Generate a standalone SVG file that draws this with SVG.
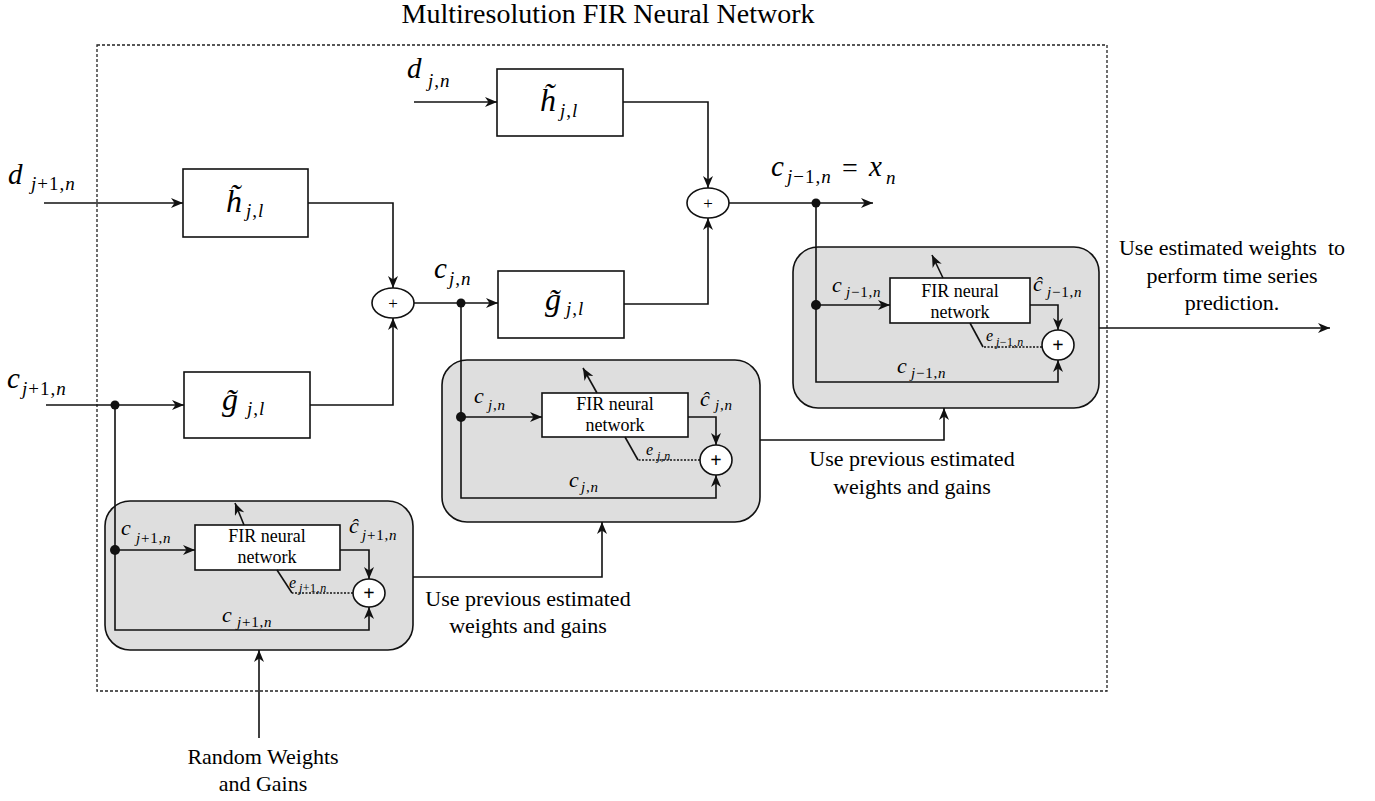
<svg xmlns="http://www.w3.org/2000/svg" width="1375" height="801" viewBox="0 0 1375 801">
<style>
.ln{fill:none;stroke:#111;stroke-width:1.6}
.dl{fill:none;stroke:#111;stroke-width:1.3;stroke-dasharray:2,1.5}
.bx{fill:#fff;stroke:#111;stroke-width:1.6}
.gb{fill:#dedede;stroke:#111;stroke-width:1.6}
.el{fill:#fff;stroke:#111;stroke-width:1.6}
.mi{font-family:"Liberation Serif",serif;font-style:italic;fill:#000}
.tx{font-family:"Liberation Serif",serif;fill:#000}
.up{font-style:normal}
.big{font-size:29px}
.bb{font-size:32px}
.sub{font-size:19px;letter-spacing:1px}
.sm{font-size:22px}
.ssub{font-size:15px;letter-spacing:0.8px}
.es{font-size:12px;letter-spacing:0.5px}
.body{font-size:22px;text-anchor:middle;white-space:pre}
.fir{font-size:18px;text-anchor:middle}
.ctr{text-anchor:middle}
</style>
<defs>
<marker id="a" viewBox="0 0 12 10" refX="12" refY="5" markerWidth="13" markerHeight="10" orient="auto" markerUnits="userSpaceOnUse"><path d="M0,0 L12,5 L0,10 L3.5,5 z" fill="#111"/></marker>
</defs>
<rect width="1375" height="801" fill="#fff"/>
<text class="tx ctr" x="608" y="23" font-size="28">Multiresolution FIR Neural Network</text>
<rect x="97" y="45" width="1010" height="646" fill="none" stroke="#222" stroke-width="1.3" stroke-dasharray="3,2"/>

<g id="h1">
<rect class="bx" x="183" y="169" width="125" height="68"/>
<text class="mi bb" x="226" y="212">h&#x303;</text>
<text class="mi sub" x="246" y="217">j<tspan class="up">,</tspan>l</text>
</g>
<g id="g1">
<rect class="bx" x="184" y="372" width="126" height="66"/>
<text class="mi bb" x="222" y="410">g&#x303;</text>
<text class="mi sub" x="247" y="415">j<tspan class="up">,</tspan>l</text>
</g>
<g id="h2">
<rect class="bx" x="497" y="69" width="126" height="67"/>
<text class="mi bb" x="540" y="111">h&#x303;</text>
<text class="mi sub" x="560" y="117">j<tspan class="up">,</tspan>l</text>
</g>
<g id="g2">
<rect class="bx" x="498" y="271" width="126" height="67"/>
<text class="mi bb" x="545" y="310">g&#x303;</text>
<text class="mi sub" x="566" y="315">j<tspan class="up">,</tspan>l</text>
</g>
<g id="sum1">
<ellipse class="el" cx="393" cy="303" rx="21" ry="15"/>
<text class="tx ctr" x="393" y="309" font-size="17" fill="#333">+</text>
</g>
<g id="sum2">
<ellipse class="el" cx="708" cy="203" rx="21" ry="15"/>
<text class="tx ctr" x="708" y="209" font-size="17" fill="#333">+</text>
</g>

<g id="fir1">
<rect class="gb" x="105" y="501" width="308" height="149" rx="25"/>
<rect class="bx" x="195" y="525" width="145" height="45"/>
<text class="tx fir" x="267" y="542">FIR neural</text>
<text class="tx fir" x="267" y="563">network</text>
<ellipse class="el" cx="369" cy="593" rx="16" ry="14"/>
<text class="tx ctr" x="369" y="600" font-size="20" font-weight="bold">+</text>
<text class="mi sm" x="121" y="535">c</text><text class="mi ssub" x="136" y="543">j<tspan class="up">+1,</tspan>n</text>
<text class="mi sm" x="349" y="533">ĉ</text><text class="mi ssub" x="362" y="540">j<tspan class="up">+1,</tspan>n</text>
<text class="mi" x="289" y="588" font-size="16">e</text><text class="mi es" x="299" y="592">j<tspan class="up">+1,</tspan>n</text>
<text class="mi sm" x="222" y="622">c</text><text class="mi ssub" x="237" y="627">j<tspan class="up">+1,</tspan>n</text>
</g>
<g id="fir2">
<rect class="gb" x="442" y="360" width="318" height="162" rx="25"/>
<rect class="bx" x="542" y="393" width="146" height="44"/>
<text class="tx fir" x="615" y="410">FIR neural</text>
<text class="tx fir" x="615" y="431">network</text>
<ellipse class="el" cx="716" cy="460" rx="16" ry="15"/>
<text class="tx ctr" x="716" y="467" font-size="20" font-weight="bold">+</text>
<text class="mi sm" x="474" y="403">c</text><text class="mi ssub" x="488" y="410">j<tspan class="up">,</tspan>n</text>
<text class="mi sm" x="700" y="406">ĉ</text><text class="mi ssub" x="715" y="410">j<tspan class="up">,</tspan>n</text>
<text class="mi" x="646" y="455" font-size="16">e</text><text class="mi es" x="657" y="460">j<tspan class="up">,</tspan>n</text>
<text class="mi sm" x="569" y="487">c</text><text class="mi ssub" x="581" y="492">j<tspan class="up">,</tspan>n</text>
</g>
<g id="fir3">
<rect class="gb" x="793" y="247" width="306" height="161" rx="25"/>
<rect class="bx" x="890" y="278" width="140" height="45"/>
<text class="tx fir" x="960" y="297">FIR neural</text>
<text class="tx fir" x="960" y="318">network</text>
<ellipse class="el" cx="1058" cy="345" rx="16" ry="15"/>
<text class="tx ctr" x="1058" y="352" font-size="20" font-weight="bold">+</text>
<text class="mi sm" x="832" y="292">c</text><text class="mi ssub" x="846" y="297">j<tspan class="up">−1,</tspan>n</text>
<text class="mi sm" x="1033" y="291">ĉ</text><text class="mi ssub" x="1047" y="297">j<tspan class="up">−1,</tspan>n</text>
<text class="mi" x="986" y="341" font-size="16">e</text><text class="mi es" x="996" y="346">j<tspan class="up">−1,</tspan>n</text>
<text class="mi sm" x="897" y="373">c</text><text class="mi ssub" x="911" y="378">j<tspan class="up">−1,</tspan>n</text>
</g>

<g id="labels">
<text class="mi big" x="8" y="184">d</text><text class="mi sub" x="31" y="190">j<tspan class="up">+1,</tspan>n</text>
<text class="mi big" x="7" y="388">c</text><text class="mi sub" x="22" y="395">j<tspan class="up">+1,</tspan>n</text>
<text class="mi big" x="407" y="78">d</text><text class="mi sub" x="428" y="87">j<tspan class="up">,</tspan>n</text>
<text class="mi big" x="434" y="278">c</text><text class="mi sub" x="449" y="285">j<tspan class="up">,</tspan>n</text>
<text class="mi big" x="771" y="176">c</text><text class="mi sub" x="787" y="183">j<tspan class="up">−1,</tspan>n</text>
<text class="tx" x="842" y="177" font-size="28">=</text>
<text class="mi big" x="869" y="176">x</text><text class="mi sub" x="886" y="184">n</text>
<text class="tx body" x="1232" y="255" xml:space="preserve">Use estimated weights  to</text>
<text class="tx body" x="1232" y="283">perform time series</text>
<text class="tx body" x="1232" y="310">prediction.</text>
<text class="tx body" x="528" y="606">Use previous estimated</text>
<text class="tx body" x="528" y="633">weights and gains</text>
<text class="tx body" x="912" y="466">Use previous estimated</text>
<text class="tx body" x="912" y="494">weights and gains</text>
<text class="tx body" x="263" y="764">Random Weights</text>
<text class="tx body" x="263" y="791">and Gains</text>
</g>

<g id="connectors">
<path class="ln" d="M44,203 H183" marker-end="url(#a)"/>
<path class="ln" d="M414,102 H497" marker-end="url(#a)"/>
<path class="ln" d="M308,203 H393 V288" marker-end="url(#a)"/>
<path class="ln" d="M46,405 H184" marker-end="url(#a)"/>
<path class="ln" d="M310,405 H393 V318" marker-end="url(#a)"/>
<path class="ln" d="M414,303 H498" marker-end="url(#a)"/>
<path class="ln" d="M623,102 H708 V188" marker-end="url(#a)"/>
<path class="ln" d="M624,304 H708 V218" marker-end="url(#a)"/>
<path class="ln" d="M729,203 H873" marker-end="url(#a)"/>
<path class="ln" d="M115,405 V630 H369 V607" marker-end="url(#a)"/>
<path class="ln" d="M115,550 H195" marker-end="url(#a)"/>
<path class="ln" d="M340,550 H369 V579" marker-end="url(#a)"/>
<path class="dl" d="M353,593 H292"/>
<path class="ln" stroke-width="1.2" d="M292,593 L277,570"/>
<path class="ln" d="M244,525 L235,503" marker-end="url(#a)"/>
<path class="ln" d="M413,577 H602 V522" marker-end="url(#a)"/>
<path class="ln" d="M461,303 V498 H716 V475" marker-end="url(#a)"/>
<path class="ln" d="M461,417 H542" marker-end="url(#a)"/>
<path class="ln" d="M688,417 H716 V445" marker-end="url(#a)"/>
<path class="dl" d="M700,460 H638"/>
<path class="ln" stroke-width="1.2" d="M638,460 L625,437"/>
<path class="ln" d="M597,393 L583,368" marker-end="url(#a)"/>
<path class="ln" d="M760,440 H944 V408" marker-end="url(#a)"/>
<path class="ln" d="M816,203 V382 H1058 V360" marker-end="url(#a)"/>
<path class="ln" d="M816,305 H890" marker-end="url(#a)"/>
<path class="ln" d="M1030,305 H1058 V330" marker-end="url(#a)"/>
<path class="dl" d="M1042,347 H983"/>
<path class="ln" stroke-width="1.2" d="M983,347 L970,323"/>
<path class="ln" d="M943,278 L932,255" marker-end="url(#a)"/>
<path class="ln" d="M1099,328 H1330" marker-end="url(#a)"/>
<path class="ln" d="M259,738 V650" marker-end="url(#a)"/>
<circle cx="115" cy="405" r="4.5" fill="#111"/>
<circle cx="115" cy="550" r="5" fill="#111"/>
<circle cx="461" cy="303" r="4.5" fill="#111"/>
<circle cx="461" cy="417" r="5" fill="#111"/>
<circle cx="816" cy="203" r="4.5" fill="#111"/>
<circle cx="816" cy="305" r="5" fill="#111"/>
</g>
</svg>
